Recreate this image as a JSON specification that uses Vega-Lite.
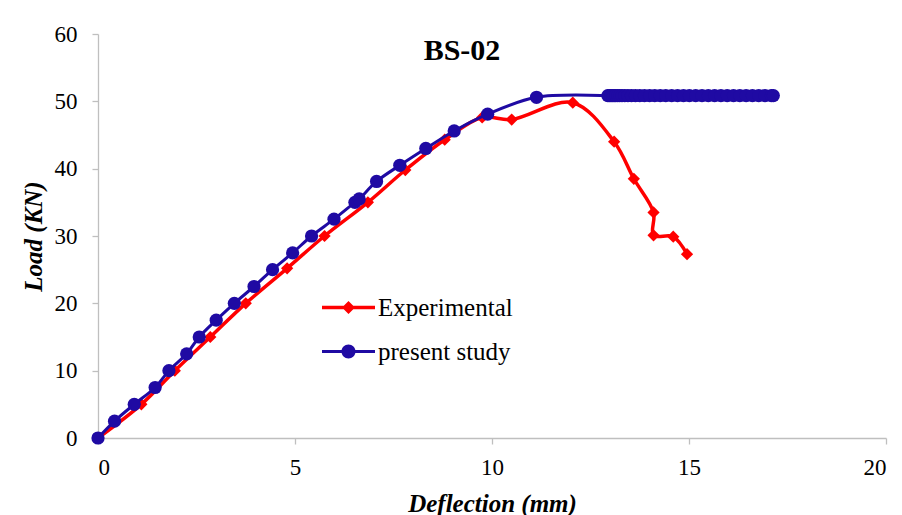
{
  "$schema": "https://vega.github.io/schema/vega-lite/v6.json",
  "width": 788,
  "height": 404,
  "autosize": {"type": "none"},
  "padding": {"left": 98, "top": 34, "right": 16, "bottom": 77},
  "background": "white",
  "config": {
    "view": {"stroke": null},
    "font": "Liberation Serif",
    "axis": {"grid": false, "domainColor": "#BFBFBF", "tickColor": "#BFBFBF", "domainWidth": 1.3, "tickWidth": 1.3, "tickSize": 6, "labelFont": "Liberation Serif", "labelFontSize": 23, "labelColor": "#000000", "titleFont": "Liberation Serif", "titleFontSize": 25, "titleFontWeight": "bold", "titleFontStyle": "italic", "titleColor": "#000000"}
  },
  "title": {"text": "BS-02", "font": "Liberation Serif", "fontSize": 30, "fontWeight": "bold", "color": "#000000", "anchor": "middle", "dx": -30, "offset": -67, "baseline": "alphabetic"},
  "data": {"values": [
    {"series": "Experimental", "i": 0, "d": 0, "load": 0},
    {"series": "Experimental", "i": 1, "d": 1.1, "load": 5},
    {"series": "Experimental", "i": 2, "d": 1.95, "load": 10},
    {"series": "Experimental", "i": 3, "d": 2.85, "load": 15},
    {"series": "Experimental", "i": 4, "d": 3.75, "load": 20},
    {"series": "Experimental", "i": 5, "d": 4.8, "load": 25.2},
    {"series": "Experimental", "i": 6, "d": 5.75, "load": 30},
    {"series": "Experimental", "i": 7, "d": 6.85, "load": 35},
    {"series": "Experimental", "i": 8, "d": 7.8, "load": 39.8},
    {"series": "Experimental", "i": 9, "d": 8.8, "load": 44.3},
    {"series": "Experimental", "i": 10, "d": 9.75, "load": 47.6},
    {"series": "Experimental", "i": 11, "d": 10.5, "load": 47.3},
    {"series": "Experimental", "i": 12, "d": 12.05, "load": 49.8},
    {"series": "Experimental", "i": 13, "d": 13.1, "load": 44},
    {"series": "Experimental", "i": 14, "d": 13.6, "load": 38.5},
    {"series": "Experimental", "i": 15, "d": 14.1, "load": 33.5},
    {"series": "Experimental", "i": 16, "d": 14.1, "load": 30.1},
    {"series": "Experimental", "i": 17, "d": 14.6, "load": 29.9},
    {"series": "Experimental", "i": 18, "d": 14.95, "load": 27.3},
    {"series": "present study", "i": 0, "d": 0, "load": 0},
    {"series": "present study", "i": 1, "d": 0.42, "load": 2.5},
    {"series": "present study", "i": 2, "d": 0.92, "load": 5},
    {"series": "present study", "i": 3, "d": 1.45, "load": 7.5},
    {"series": "present study", "i": 4, "d": 1.8, "load": 10},
    {"series": "present study", "i": 5, "d": 2.25, "load": 12.5},
    {"series": "present study", "i": 6, "d": 2.57, "load": 15},
    {"series": "present study", "i": 7, "d": 3.0, "load": 17.5},
    {"series": "present study", "i": 8, "d": 3.46, "load": 20},
    {"series": "present study", "i": 9, "d": 3.96, "load": 22.5},
    {"series": "present study", "i": 10, "d": 4.43, "load": 25},
    {"series": "present study", "i": 11, "d": 4.94, "load": 27.5},
    {"series": "present study", "i": 12, "d": 5.42, "load": 30},
    {"series": "present study", "i": 13, "d": 5.99, "load": 32.5},
    {"series": "present study", "i": 14, "d": 6.52, "load": 35},
    {"series": "present study", "i": 15, "d": 6.63, "load": 35.5},
    {"series": "present study", "i": 16, "d": 7.07, "load": 38.1},
    {"series": "present study", "i": 17, "d": 7.66, "load": 40.5},
    {"series": "present study", "i": 18, "d": 8.32, "load": 43.0},
    {"series": "present study", "i": 19, "d": 9.04, "load": 45.6},
    {"series": "present study", "i": 20, "d": 9.89, "load": 48.1},
    {"series": "present study", "i": 21, "d": 11.13, "load": 50.6},
    {"series": "present study", "i": 22, "d": 12.94, "load": 50.85},
    {"series": "present study", "i": 23, "d": 12.98, "load": 50.85},
    {"series": "present study", "i": 24, "d": 13.02, "load": 50.85},
    {"series": "present study", "i": 25, "d": 13.06, "load": 50.85},
    {"series": "present study", "i": 26, "d": 13.1, "load": 50.85},
    {"series": "present study", "i": 27, "d": 13.14, "load": 50.85},
    {"series": "present study", "i": 28, "d": 13.19, "load": 50.85},
    {"series": "present study", "i": 29, "d": 13.24, "load": 50.85},
    {"series": "present study", "i": 30, "d": 13.3, "load": 50.85},
    {"series": "present study", "i": 31, "d": 13.37, "load": 50.85},
    {"series": "present study", "i": 32, "d": 13.45, "load": 50.85},
    {"series": "present study", "i": 33, "d": 13.54, "load": 50.85},
    {"series": "present study", "i": 34, "d": 13.64, "load": 50.85},
    {"series": "present study", "i": 35, "d": 13.75, "load": 50.85},
    {"series": "present study", "i": 36, "d": 13.87, "load": 50.85},
    {"series": "present study", "i": 37, "d": 14.0, "load": 50.85},
    {"series": "present study", "i": 38, "d": 14.13, "load": 50.85},
    {"series": "present study", "i": 39, "d": 14.27, "load": 50.85},
    {"series": "present study", "i": 40, "d": 14.41, "load": 50.85},
    {"series": "present study", "i": 41, "d": 14.56, "load": 50.85},
    {"series": "present study", "i": 42, "d": 14.71, "load": 50.85},
    {"series": "present study", "i": 43, "d": 14.86, "load": 50.85},
    {"series": "present study", "i": 44, "d": 15.01, "load": 50.85},
    {"series": "present study", "i": 45, "d": 15.17, "load": 50.85},
    {"series": "present study", "i": 46, "d": 15.33, "load": 50.85},
    {"series": "present study", "i": 47, "d": 15.49, "load": 50.85},
    {"series": "present study", "i": 48, "d": 15.65, "load": 50.85},
    {"series": "present study", "i": 49, "d": 15.81, "load": 50.85},
    {"series": "present study", "i": 50, "d": 15.97, "load": 50.85},
    {"series": "present study", "i": 51, "d": 16.13, "load": 50.85},
    {"series": "present study", "i": 52, "d": 16.29, "load": 50.85},
    {"series": "present study", "i": 53, "d": 16.45, "load": 50.85},
    {"series": "present study", "i": 54, "d": 16.61, "load": 50.85},
    {"series": "present study", "i": 55, "d": 16.77, "load": 50.85},
    {"series": "present study", "i": 56, "d": 16.93, "load": 50.85},
    {"series": "present study", "i": 57, "d": 17.09, "load": 50.85},
    {"series": "present study", "i": 58, "d": 17.14, "load": 50.85}
  ]},
  "encoding": {
    "x": {"field": "d", "type": "quantitative", "scale": {"domain": [0, 20], "nice": false, "zero": false}, "axis": {"values": [0, 5, 10, 15, 20], "title": "Deflection (mm)", "labelPadding": 12, "titlePadding": 12}},
    "y": {"field": "load", "type": "quantitative", "scale": {"domain": [0, 60], "nice": false}, "axis": {"values": [0, 10, 20, 30, 40, 50, 60], "title": "Load (KN)", "labelPadding": 15, "titlePadding": 8}},
    "color": {"field": "series", "type": "nominal", "scale": {"domain": ["Experimental", "present study"], "range": ["#FF0000", "#1F0AA3"]},
      "legend": {"title": null, "orient": "none", "legendX": 238, "legendY": 261, "padding": 0, "labelFont": "Liberation Serif", "labelFontSize": 25, "labelColor": "#000000", "labelOffset": 17, "rowPadding": 18, "symbolSize": 400,
        "encode": {"symbols": {"update": {
          "size": {"value": 400},
          "strokeWidth": {"value": 0},
          "opacity": {"value": 1},
          "fillOpacity": {"value": 1},
          "shape": [
            {"test": "datum.value === 'Experimental'", "value": "M-2.65,-0.17L2.65,-0.17L2.65,0.17L-2.65,0.17ZM0,-0.65L0.65,0L0,0.65L-0.65,0Z"},
            {"value": "M-2.65,-0.15L2.65,-0.15L2.65,0.15L-2.65,0.15ZM-0.7,0A0.7,0.7 0 1,1 0.7,0A0.7,0.7 0 1,1 -0.7,0Z"}
          ]
        }}}
      }
    },
    "order": {"field": "i", "type": "quantitative"}
  },
  "layer": [
    {"transform": [{"filter": "datum.series === 'Experimental'"}], "mark": {"type": "line", "interpolate": "catmull-rom", "strokeWidth": 3.5}},
    {"transform": [{"filter": "datum.series === 'Experimental'"}], "mark": {"type": "point", "shape": "diamond", "filled": true, "size": 150, "opacity": 1}},
    {"transform": [{"filter": "datum.series === 'present study'"}], "mark": {"type": "line", "interpolate": "catmull-rom", "strokeWidth": 3}},
    {"transform": [{"filter": "datum.series === 'present study'"}], "mark": {"type": "point", "shape": "circle", "filled": true, "size": 175, "opacity": 1}}
  ]
}
